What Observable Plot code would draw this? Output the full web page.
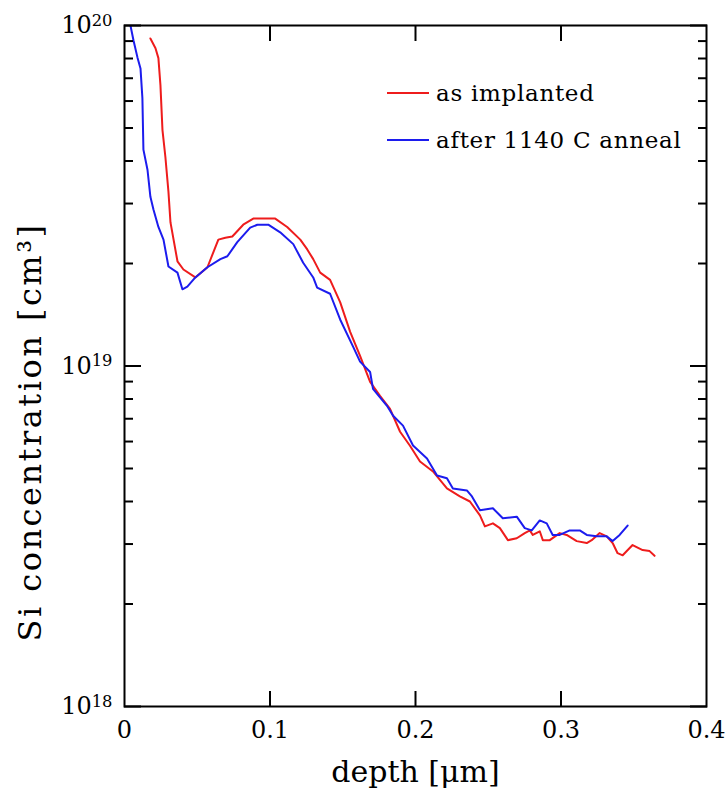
<!DOCTYPE html>
<html>
<head>
<meta charset="utf-8">
<script src="https://cdn.jsdelivr.net/npm/d3@7"></script>
<script src="https://cdn.jsdelivr.net/npm/@observablehq/plot@0.6"></script>
<style>
  html, body { margin: 0; padding: 0; background: #fff; }
  #wrap { position: relative; width: 727px; height: 794px; font-family: "DejaVu Serif", serif; }
  .legend { position: absolute; left: 387px; font-size: 23px; letter-spacing: 0.7px; color: #000; display: flex; align-items: center; white-space: nowrap; }
  .legend .sw { display: inline-block; width: 42px; height: 2px; margin-right: 7px; }
</style>
</head>
<body>
<div id="wrap"></div>
<script>
// ---- data ----
const seriesNames = ["as implanted", "after 1140 C anneal"];
const seriesColors = ["#ee1c1c", "#1c1cee"];

const depthAsImplanted = [0.0178,0.0213,0.0233,0.0247,0.0261,0.0281,0.0302,0.0316,0.0364,0.0405,0.0487,0.0570,0.0645,0.0693,0.0741,0.0816,0.0885,0.1036,0.1118,0.1208,0.1256,0.1297,0.1345,0.1413,0.1482,0.1551,0.1619,0.1688,0.1756,0.1825,0.1894,0.1962,0.2031,0.2120,0.2216,0.2305,0.2374,0.2443,0.2477,0.2532,0.2580,0.2635,0.2696,0.2751,0.2786,0.2806,0.2854,0.2875,0.2923,0.2991,0.3039,0.3108,0.3177,0.3211,0.3266,0.3314,0.3355,0.3389,0.3424,0.3492,0.3561,0.3609,0.3643];
const concAsImplanted = [9.16e19,8.57e19,8.02e19,6.68e19,4.93e19,4.11e19,3.25e19,2.64e19,2.03e19,1.92e19,1.82e19,1.95e19,2.35e19,2.38e19,2.40e19,2.60e19,2.71e19,2.71e19,2.56e19,2.35e19,2.20e19,2.06e19,1.88e19,1.79e19,1.54e19,1.26e19,1.07e19,8.98e18,8.17e18,7.48e18,6.41e18,5.83e18,5.24e18,4.90e18,4.37e18,4.14e18,4.00e18,3.64e18,3.38e18,3.45e18,3.34e18,3.08e18,3.12e18,3.23e18,3.29e18,3.19e18,3.27e18,3.08e18,3.08e18,3.23e18,3.19e18,3.06e18,3.02e18,3.08e18,3.23e18,3.16e18,3.02e18,2.82e18,2.78e18,2.98e18,2.88e18,2.86e18,2.77e18];

const depthAnnealed = [0.0041,0.0062,0.0089,0.0110,0.0123,0.0130,0.0158,0.0178,0.0199,0.0233,0.0268,0.0302,0.0364,0.0398,0.0432,0.0487,0.0570,0.0659,0.0707,0.0775,0.0864,0.0913,0.0988,0.1070,0.1160,0.1228,0.1297,0.1324,0.1413,0.1482,0.1571,0.1619,0.1688,0.1708,0.1804,0.1846,0.1914,0.1983,0.2079,0.2148,0.2216,0.2257,0.2353,0.2388,0.2443,0.2532,0.2600,0.2696,0.2751,0.2799,0.2854,0.2902,0.2943,0.2991,0.3060,0.3129,0.3177,0.3245,0.3314,0.3355,0.3403,0.3458];
const concAnnealed = [1.0e20,9.04e19,8.06e19,7.48e19,6.12e19,4.32e19,3.77e19,3.14e19,2.88e19,2.56e19,2.35e19,1.96e19,1.88e19,1.68e19,1.71e19,1.82e19,1.95e19,2.06e19,2.10e19,2.31e19,2.55e19,2.60e19,2.60e19,2.47e19,2.28e19,2.01e19,1.82e19,1.70e19,1.63e19,1.37e19,1.14e19,1.03e19,9.60e18,8.57e18,7.64e18,7.14e18,6.68e18,5.84e18,5.35e18,4.77e18,4.68e18,4.37e18,4.31e18,4.14e18,3.77e18,3.82e18,3.57e18,3.61e18,3.34e18,3.29e18,3.52e18,3.45e18,3.19e18,3.19e18,3.29e18,3.29e18,3.19e18,3.16e18,3.16e18,3.06e18,3.19e18,3.40e18];

const xTickValues = [0, 0.1, 0.2, 0.3, 0.4];
const xTickLabels = ["0", "0.1", "0.2", "0.3", "0.4"];
const xInnerTicks = [0.1, 0.2, 0.3];
const yMajorTicks = [1e18, 1e19, 1e20];
const yMinorTicks = [2e18,3e18,4e18,5e18,6e18,7e18,8e18,9e18,2e19,3e19,4e19,5e19,6e19,7e19,8e19,9e19];
const xLabel = "depth [μm]";
const yLabel = "Si concentration [cm³]";

// ---- build tables ----
const asImplanted = depthAsImplanted.map((d, i) => ({depth: d, conc: concAsImplanted[i]}));
const annealed = depthAnnealed.map((d, i) => ({depth: d, conc: concAnnealed[i]}));

const noText = () => "";
const font = "DejaVu Serif";
const chart = Plot.plot({
  width: 727,
  height: 794,
  marginLeft: 124,
  marginRight: 21,
  marginTop: 25,
  marginBottom: 88,
  style: {fontFamily: font, background: "white", color: "black"},
  x: {domain: [0, 0.4]},
  y: {type: "log", domain: [1e18, 1e20]},
  marks: [
    Plot.line(asImplanted, {x: "depth", y: "conc", stroke: seriesColors[0], strokeWidth: 2, clip: true}),
    Plot.line(annealed, {x: "depth", y: "conc", stroke: seriesColors[1], strokeWidth: 2, clip: true}),
    // tick labels
    Plot.axisX({ticks: xTickValues, tickSize: 0, tickPadding: 14, fontSize: 24, label: null,
      tickFormat: d => xTickLabels[xTickValues.indexOf(d)]}),
    Plot.axisY({ticks: yMajorTicks, tickSize: 0, tickPadding: 12, fontSize: 24, label: null,
      tickFormat: d => String(Math.round(Math.log10(d)))}),
    // inward ticks on all four sides
    Plot.axisX({anchor: "bottom", ticks: xInnerTicks, tickSize: -15, strokeWidth: 2, tickFormat: noText, label: null}),
    Plot.axisX({anchor: "top", ticks: xInnerTicks, tickSize: -15, strokeWidth: 2, tickFormat: noText, label: null}),
    Plot.axisY({anchor: "left", ticks: yMajorTicks, tickSize: -17, strokeWidth: 2, tickFormat: noText, label: null}),
    Plot.axisY({anchor: "left", ticks: yMinorTicks, tickSize: -9, strokeWidth: 2, tickFormat: noText, label: null}),
    Plot.axisY({anchor: "right", ticks: yMajorTicks, tickSize: -17, strokeWidth: 2, tickFormat: noText, label: null}),
    Plot.axisY({anchor: "right", ticks: yMinorTicks, tickSize: -9, strokeWidth: 2, tickFormat: noText, label: null}),
    // axis titles
    Plot.text([xLabel], {frameAnchor: "bottom", dy: 66, lineAnchor: "middle", textAnchor: "middle", fontSize: 30, text: d => d}),
    Plot.text([yLabel], {frameAnchor: "left", dx: -94, dy: 66, rotate: -90, lineAnchor: "middle", textAnchor: "middle", fontSize: 32, text: d => d}),
    Plot.frame({stroke: "black", strokeWidth: 2})
  ]
});

// remove the empty tick-label texts of the tick-only axes
d3.select(chart).selectAll("text").filter(function() { return this.textContent.trim() === ""; }).remove();

// superscript exponents on the y tick labels: 10^n
d3.select(chart).selectAll('g[aria-label="y-axis tick label"] text').each(function() {
  const exp = this.textContent.trim();
  if (!/^\d+$/.test(exp)) return;
  const t = d3.select(this);
  t.text(null);
  t.append("tspan").text("10");
  t.append("tspan").attr("dy", "-0.45em").attr("font-size", "0.68em").text(exp);
});
// looser letter spacing of the y title, as in the reference
d3.select(chart).selectAll("text").filter(function() { return this.textContent === yLabel; })
  .attr("letter-spacing", "2.5px");

const wrap = document.getElementById("wrap");
wrap.appendChild(chart);

// legend (inside the plot, top right)
const legendTops = [80, 127];
seriesNames.forEach((name, i) => {
  const row = document.createElement("div");
  row.className = "legend";
  row.style.top = legendTops[i] + "px";
  const sw = document.createElement("span");
  sw.className = "sw";
  sw.style.background = seriesColors[i];
  row.appendChild(sw);
  const lab = document.createElement("span");
  lab.textContent = name;
  row.appendChild(lab);
  wrap.appendChild(row);
});
</script>
</body>
</html>
